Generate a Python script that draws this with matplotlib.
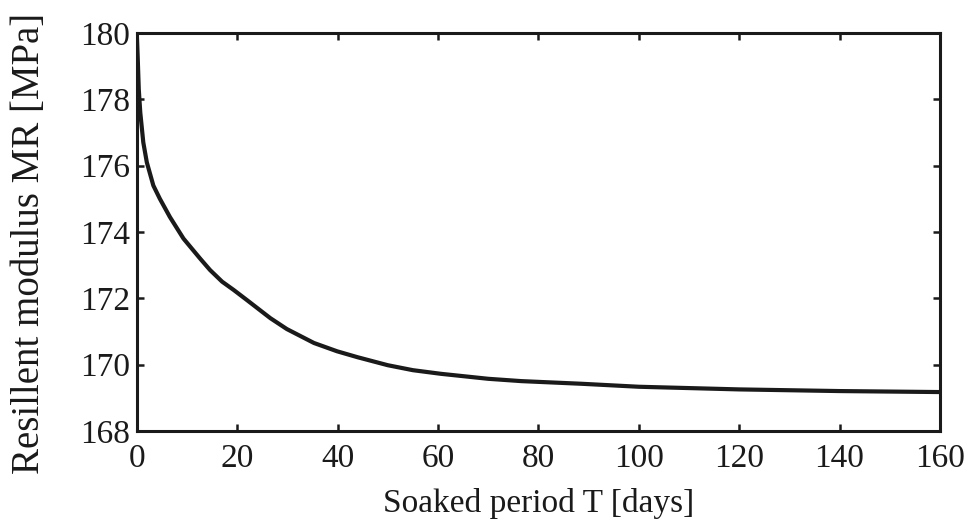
import matplotlib
matplotlib.use("Agg")
import matplotlib.pyplot as plt

# soaked period (days) and resilient modulus (MPa)
days = [0, 0.2, 0.4, 0.7, 1.3, 2, 3.3, 4.6, 6.6, 9.3, 12.6, 14.6, 17, 19.3, 21.9,
        26.6, 29.9, 35.3, 39.9, 44, 50, 55, 60.6, 70, 76.6, 88.6, 100, 120, 140, 160]
mr = [180, 179.2, 178.3, 177.6, 176.7, 176.1, 175.4, 175.0, 174.45, 173.8,
      173.2, 172.85, 172.5, 172.25, 171.95, 171.4, 171.07, 170.65, 170.4, 170.22,
      169.98, 169.83, 169.72, 169.57, 169.5, 169.42, 169.33, 169.25, 169.2, 169.17]

xticks = [0, 20, 40, 60, 80, 100, 120, 140, 160]
yticks = [168, 170, 172, 174, 176, 178, 180]

plt.rcParams['font.family'] = ['Liberation Serif', 'DejaVu Serif']

fig = plt.figure(figsize=(9.7, 5.28), dpi=100)
ax = fig.add_axes([0.141, 0.184, 0.828, 0.7535])

ax.plot(days, mr, color='#1a1a1a', linewidth=3, solid_joinstyle='round')

ax.set_xlim(0, 160)
ax.set_ylim(168, 180)
ax.set_xticks(xticks)
ax.set_yticks(yticks)
ax.tick_params(direction='in', length=5, width=1.8, top=True, right=True,
               labelsize=24, colors='#1a1a1a')
ax.tick_params(axis='x', pad=9)
ax.tick_params(axis='y', pad=5)
for s in ax.spines.values():
    s.set_linewidth(2.2)
    s.set_color('#1a1a1a')

ax.set_xlabel('Soaked period T [days]', fontsize=24, color='#1a1a1a', labelpad=10)
ax.set_ylabel('Resillent modulus MR [MPa]', fontsize=28, color='#1a1a1a')
ax.yaxis.set_label_coords(-0.110, 0.472)

fig.savefig('out.png', dpi=100)
